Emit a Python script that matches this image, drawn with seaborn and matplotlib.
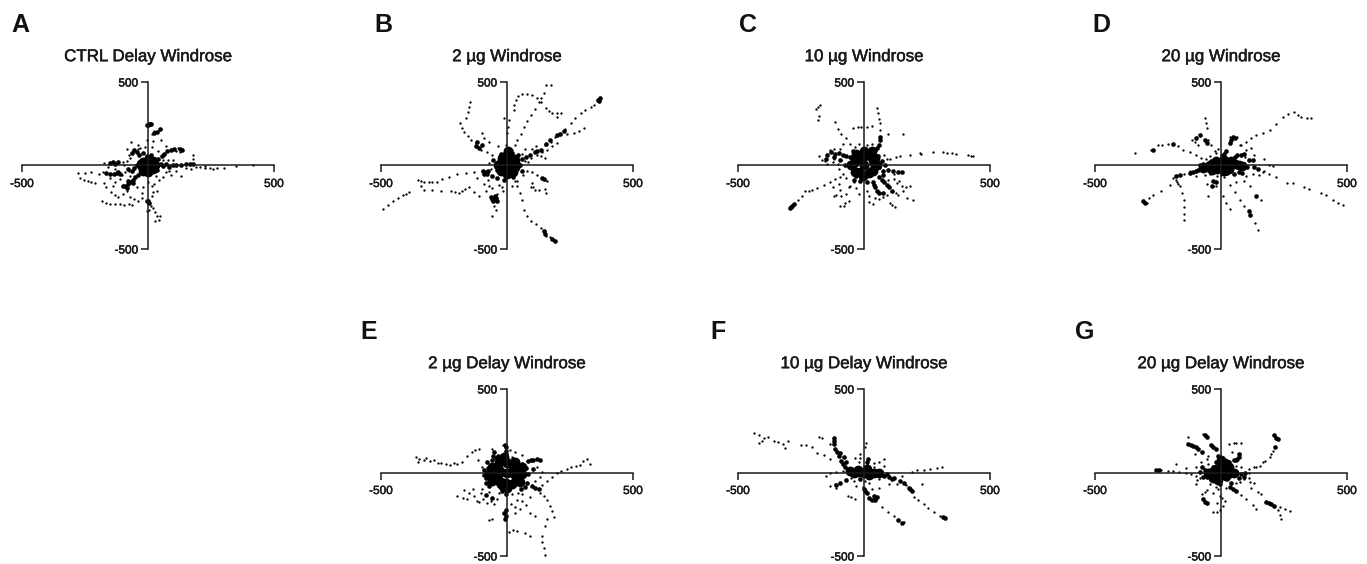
import matplotlib
matplotlib.use("Agg")
import matplotlib.pyplot as plt
import matplotlib.patheffects as pe
import pandas as pd
import seaborn as sns

sns.set_style("ticks")
plt.rcParams['font.family'] = ['Liberation Sans', 'DejaVu Sans']

TITLES = ["CTRL Delay Windrose", "2 µg Windrose", "10 µg Windrose", "20 µg Windrose",
          "2 µg Delay Windrose", "10 µg Delay Windrose", "20 µg Delay Windrose"]
LETTERS = ["A", "B", "C", "D", "E", "F", "G"]
TICKS = [-500, 500]
TICK_LABELS = ["-500", "500"]

# solid middle of each rose
a_hub = [(0, 0), (-20, 20), (20, -20), (20, 25), (-20, -30), (0, 35), (0, -40), (28, 0), (-28, 0)]
b_hub = [(0, 0), (-15, 20), (15, -20), (18, 22), (-18, -25), (5, 40), (0, -50), (0, 60), (-20, 45), (20, 45), (-25, -35),
         (25, -40), (35, 0), (-35, 0), (30, 35), (5, 85)]
c_hub = [(0, 0), (-35, 30), (35, -30), (35, 35), (-35, -40), (0, 55), (-5, -60), (-50, 0), (50, 0), (-40, 15), (40, 15),
         (-20, 50), (20, 60), (0, 85), (-15, -40), (20, -45), (-30, 70), (45, 45), (30, 85)]
d_hub = [(0, 0), (-30, 5), (30, 5), (-55, -10), (55, 10), (15, 20), (-15, -20), (-70, -15), (-45, 0), (70, 5), (85, -5),
         (40, 25), (30, -20), (-20, 25), (-35, -25), (10, -30), (10, 35)]
e_hub = [(0, 0), (-35, 30), (35, -30), (35, 35), (-35, -40), (0, 55), (-5, -60), (-50, 0), (50, 0), (-60, -20), (60, -10),
         (-30, 60), (30, 65), (-10, 90), (-60, 30), (60, 35), (-60, -50), (50, -55), (0, -90), (20, -70), (-25, -70),
         (25, 30), (-25, 5), (25, -5), (-70, -10)]
f_hub = [(0, 0), (-25, 3), (25, -3), (-40, 0), (-55, 10), (40, -5), (60, -5), (-25, 15), (10, 20), (20, -15)]
g_hub = [(0, 0), (-20, 20), (20, -20), (20, 22), (-20, -25), (-35, 5), (35, 0), (0, 40), (-10, -45), (15, 55), (-50, -5),
         (50, -5), (30, 30), (-30, -30), (0, 75)]

# dense clumps and thick arms (um)
a_core = [(-20, 10), (20, -10), (-30, -15), (30, 15), (40, 0), (-45, 0), (35, -25), (-35, 20), (50, 10), (-55, -12),
          (25, 40), (60, -5), (72, 10), (85, -8), (98, 5), (112, 0), (130, 4), (150, 8), (165, 8), (178, 6), (40, 40),
          (55, 55), (65, 70), (76, 85), (90, 95), (105, 100), (125, 100), (135, 95), (4, 249), (-2, 245), (8, 250),
          (0, 240), (12, 246), (-150, 14), (-140, 20), (-130, 10), (-118, 18), (-165, -45), (-150, -50), (-135, -50),
          (-120, -40), (-100, -125), (-90, -120), (-80, -110), (-70, -100), (-60, -85), (-50, -70), (-40, -55),
          (-85, -135), (-78, -95), (-58, -105), (0, -215), (5, -225), (-5, -210), (-20, 75), (-35, 60), (-45, 80),
          (-65, 74), (-55, 90), (34, 203), (47, 217), (25, 195), (-110, -50), (-124, -46), (0, 40), (-5, 55), (10, 62),
          (-80, -20), (-65, -30)]
a_dots = [(25, 205), (35, 200), (45, 212), (52, 218), (15, 190), (-5, 150), (20, 145), (-68, 140), (-40, 125),
          (50, 150), (100, 100), (120, 102), (135, 98), (110, 85), (125, 80), (180, 60), (178, 40), (-30, 105),
          (-60, 90), (-75, 60), (-120, 15), (-100, 20), (-85, 25), (-105, -55), (-90, -40), (-75, -30), (-60, -25),
          (190, -8), (205, -10), (225, -12), (245, -14), (258, -18), (275, -15), (300, -12), (350, -5), (417, 0),
          (130, -60), (70, -40), (85, -35), (45, -85), (-276, -46), (-250, -45), (-225, -40), (-195, -52), (-180, -40),
          (-270, -75), (-255, -85), (-240, -90), (-225, -100), (-210, -105), (-175, -105), (-165, -130), (-145, -160),
          (-130, -175), (-120, -190), (-183, -215), (-165, -222), (-150, -228), (-130, -232), (-110, -232), (-95, -235),
          (-75, -230), (-65, -238), (-70, -190), (-55, -200), (-40, -210), (-25, -195), (-130, -100), (-150, -75),
          (20, -160), (35, -150), (15, -185), (-3, -270), (5, -265), (20, -255), (28, -280), (35, -305), (47, -305),
          (42, -325), (28, -335), (10, -240), (-70, 45), (-85, 100), (-40, 100), (-10, 110), (15, 110), (40, 85),
          (70, 115), (60, 35), (80, 30), (100, 35), (110, -30), (90, -55), (60, -70), (30, -60), (25, -110), (0, -100),
          (-20, -130), (-45, -130), (-70, -65), (-110, -80), (-130, -20), (-160, -10), (-95, 0), (-175, 12), (-140, -120),
          (-100, -170), (-85, -155), (225, -5), (150, -15), (170, -18), (-25, -165), (15, -120)]

b_core = [(-15, 12), (15, -12), (-25, -10), (25, 12), (35, 0), (-38, 5), (28, 28), (-30, 25), (38, -22), (-40, -25),
          (50, 5), (10, 60), (-25, 50), (18, -55), (-85, -40), (-92, -48), (-80, -52), (-75, -35), (-95, -30), (-51, -205),
          (-60, -200), (-45, -195), (-55, -215), (-65, -190), (-40, -215), (-48, -180), (60, 40), (75, 50), (90, 62),
          (110, 78), (120, 85), (135, 95), (210, 190), (200, 180), (225, 205), (140, -72), (148, -80), (371, 402),
          (360, 395), (365, 385), (5, 75), (10, 90), (-10, 70), (45, 60), (60, -30), (-55, 35), (25, -70), (-10, -85),
          (-40, -75), (-60, -60), (-25, 70), (20, 75), (190, -454), (180, -440), (150, -410), (145, -395), (153, 130),
          (170, 150), (-100, 120), (-110, 105), (-125, 115), (-120, 140)]
b_dots = [(-494, -259), (-474, -235), (-454, -211), (-434, -195), (-414, -175), (-400, -168), (-388, -161),
          (-355, -86), (-340, -95), (-329, -96), (-310, -100), (-296, -101), (-276, -99), (-256, -82), (-230, -66),
          (-197, -50), (-164, -42), (-131, -40), (-98, -30), (-342, -125), (-329, -145), (-296, -145), (-263, -151),
          (-223, -155), (-205, -160), (-190, -165), (-180, -150), (-165, -140), (-150, -131), (-130, -160), (-111, -185),
          (-45, -265), (-50, -245), (-58, -300), (-40, -170), (-20, -130), (30, -95), (41, -125), (50, -165), (61, -205),
          (67, -265), (80, -305), (94, -334), (115, -350), (133, -374), (150, -395), (153, -424), (170, -430),
          (100, -40), (120, -55), (160, -95), (150, -85), (156, -165), (150, -140), (100, -105), (105, -130),
          (113, -145), (95, -130), (125, -148), (332, 352), (345, 365), (310, 330), (293, 312), (270, 285), (253, 253),
          (230, 220), (212, 193), (190, 170), (173, 143), (150, 120), (305, 223), (285, 205), (264, 193),
          (240, 190), (199, 133), (180, 115), (160, 95), (140, 80), (173, 482), (153, 482), (147, 432), (135, 405),
          (127, 382), (110, 340), (94, 302), (80, 265), (67, 233), (55, 190), (41, 153), (30, 120), (21, 94), (28, 332),
          (28, 360), (34, 392), (45, 415), (61, 428), (80, 428), (100, 422), (118, 405), (133, 382), (153, 342),
          (165, 325), (180, 312), (200, 315), (213, 312), (200, 292), (8, 273), (5, 230), (1, 193), (-12, 283),
          (-147, 382), (-150, 350), (-155, 322), (-164, 283), (-186, 253), (-178, 225), (-170, 203), (-155, 175),
          (-144, 153), (-98, 193), (-90, 165), (-70, 140), (-124, 133), (-115, 110), (-104, 94), (-80, 80), (-58, 64),
          (-120, -75), (-75, -85), (-90, -110), (-70, -120), (-65, -20), (-70, 15), (60, 70), (70, 25), (85, 20), (65, -55),
          (80, -30), (40, -95), (-30, -115), (-15, -150), (-35, 115), (-5, 125), (-60, -135), (-85, -150), (20, -120),
          (120, 60), (150, 45), (95, 45), (100, 100), (115, 115), (135, 55), (70, 100)]

c_core = [(-25, 20), (25, -20), (-45, -10), (45, 15), (15, 45), (-15, -45), (-60, 15), (60, -10), (5, 70), (-5, -70),
          (30, 60), (-30, -65), (70, 25), (-75, 5), (55, 55), (-55, 50), (75, -30), (45, 90), (52, 105), (60, 125), (63, 150),
          (63, 170), (-145, 60), (-130, 80), (-115, 70), (-100, 75), (-85, 60), (-70, 55), (-150, 40), (-120, 50), (95, -25),
          (115, -35), (135, -40), (149, -36), (60, -70), (70, -85), (80, -100), (90, -115), (100, -130), (112, -150), (35, -100),
          (40, -115), (45, -130), (52, -150), (60, -165), (75, -165), (-293, -255), (-285, -240), (-278, -230), (-288, -248),
          (25, 85), (-25, 75), (-45, 85), (85, 5), (-15, -95), (10, -100), (-95, 35), (75, -55), (-40, -85)]
c_dots = [(-181, 352), (-190, 340), (-175, 360), (-184, 273), (-180, 295), (-115, 263), (-105, 220), (-90, 190),
          (-70, 165), (-55, 130), (-42, 227), (-25, 228), (-10, 232), (11, 233), (33, 235), (50, 342), (55, 315), (60, 280),
          (63, 253), (65, 215), (153, 187), (95, 190), (103, 38), (125, 50), (143, 58), (182, 64), (222, 74), (228, 70),
          (275, 78), (314, 78), (330, 76), (350, 72), (367, 70), (413, 60), (425, 58), (433, 54), (-260, -205), (-245, -180),
          (-233, -155), (-220, -150), (-205, -145), (-187, -135), (-160, -115), (-135, -96), (-115, -80), (-95, -66),
          (-121, -185), (-110, -175), (-90, -180), (-70, -170), (-75, -225), (-60, -210), (-95, -245), (-80, -240),
          (-100, -110), (-125, -130), (-60, -130), (-40, -100), (195, -205), (170, -195), (182, -125), (165, -130),
          (149, -125), (110, -155), (125, -165), (135, -175), (90, -175), (75, -190), (60, -200), (105, -225), (123, -249),
          (112, -235), (20, -220), (35, -230), (-180, 55), (-165, 30), (-155, 25), (-120, 40), (-90, 35), (120, -80),
          (140, -95), (-20, 130), (-35, 110), (-85, 130), (-95, 100), (10, 120), (30, 130), (-120, 100), (-135, 95),
          (80, 60), (90, 40), (-100, -20), (-85, -50), (-70, -75), (-55, -120), (-30, -135), (-20, -170), (10, -150), (20, -180),
          (45, -195), (95, -85), (120, -50), (-95, -145), (-145, 10), (-125, 20), (-105, 10), (130, -105), (155, -150)]

d_core = [(-20, 8), (20, -8), (-40, -12), (40, 12), (10, 28), (-10, -25), (-55, -5), (60, 5), (28, 30), (-30, -35),
          (30, -28), (-30, 22), (-70, -18), (75, -5), (5, 55), (20, 85), (10, 70), (45, 40), (55, 50), (65, 60), (80, 65),
          (90, 70), (90, 10), (110, 30), (125, 35), (105, -10), (130, -10), (-90, -25), (-100, -35), (-110, -40), (-125, -45),
          (48, 173), (55, 165), (40, 150), (35, 135), (85, -45), (70, -40), (50, -50), (25, -45), (-85, 5), (-70, 10), (-40, 25),
          (-30, -90), (-20, -100), (-35, -120), (-164, -56), (-180, -65), (145, -20), (140, -185), (115, -295), (112, -275),
          (-309, -215), (-300, -225), (-55, 135), (-65, 150), (-85, 180), (-100, 165), (-270, 94), (-190, 129)]
d_dots = [(358, 283), (340, 285), (318, 293), (305, 305), (288, 322), (265, 310), (246, 293), (220, 250), (193, 213),
          (165, 195), (140, 183), (120, 165), (100, 143), (80, 120), (483, -235), (465, -222), (445, -205), (417, -175),
          (395, -165), (351, -139), (330, -130), (285, -105), (260, -102), (219, -66), (190, -50), (166, -36), (-342, 74),
          (-276, 94), (-249, 123), (-235, 125), (-210, 128), (-170, 115), (-150, 94), (-125, 80),
          (-98, 64), (-65, 283), (-60, 255), (-55, 223), (-117, 153), (-105, 140), (-90, 125), (-50, 150), (-40, 120),
          (-295, -225), (-285, -195), (-269, -175), (-240, -155), (-203, -115), (-180, -85),
          (-145, -50), (-125, -35), (-148, -324), (-148, -290), (-147, -250), (-147, -205), (-155, -165),
          (-164, -125), (-175, -100), (147, -384), (135, -345), (90, -245), (74, -205), (55, -160), (34, -115),
          (34, -261), (20, -225), (8, -185), (-32, -125), (-20, -125), (-50, -185), (160, -205), (114, -125),
          (90, -90), (120, 103), (100, 90), (170, 40), (190, 0), (205, -5), (170, -30), (-20, 75), (65, 170), (35, 170),
          (75, 120), (60, -100), (-55, -110), (-10, 100), (-25, 85), (0, -55), (10, -70), (-15, -60), (100, -60), (125, -50),
          (150, -55), (95, 50), (130, 60), (-60, 40), (-80, 45), (-45, 55), (-45, -50), (-65, -55), (-100, -65), (-190, -75),
          (-170, -110)]

e_core = [(-25, 15), (25, -15), (-45, -10), (45, 12), (15, 45), (-15, -45), (-65, -20), (65, 5), (5, 75), (-5, -75),
          (40, 55), (-40, -60), (85, -10), (-85, -35), (60, 50), (-60, 75), (-5, 130), (-5, 110), (-7, 165), (-3, 150),
          (85, 70), (95, 72), (105, 76), (120, 78), (132, 76), (-50, 120), (-35, 100), (-55, 100), (-45, 85), (-80, 60), (80, -60),
          (100, -80), (125, -100), (110, -92), (-7, -279), (-5, -260), (-12, -240), (-3, -225), (-70, -55), (-85, -65), (-90, -15),
          (70, -85), (55, -100), (25, -75), (-25, -90), (-10, 100), (25, 80), (105, 20), (75, 25), (-75, 25), (-90, 15), (-70, -80),
          (-60, -150), (-85, -135), (-5, -130), (-20, -110)]
e_dots = [(-363, 90), (-350, 80), (-330, 75), (-355, 60), (-304, 70), (-290, 72), (-275, 55), (-244, 50), (-225, 45),
          (-198, 50), (-180, 60), (-158, 100), (-140, 120), (-112, 143), (-128, 135), (330, 50), (317, 80), (300, 70),
          (275, 40), (238, 20), (215, 10), (198, 0), (178, -25), (158, -50), (140, -75), (152, -497), (145, -455), (139, -418),
          (140, -380), (152, -318), (158, -279), (185, -269), (180, -230), (172, -199), (158, -165), (145, -139), (130, -120),
          (92, -378), (70, -362), (40, -348), (25, -345), (7, -358), (112, -259), (90, -240), (53, -219), (30, -205), (15, -190),
          (-198, -143), (-175, -150), (-158, -159), (-150, -120), (-135, -100), (-112, -179), (-95, -160), (-80, -185),
          (-53, -189), (-65, -170), (-40, -160), (-59, -279), (-70, -285), (-100, -100), (-120, -170), (-30, -120), (20, -130),
          (45, -120), (60, -130), (-15, 165), (10, 135), (20, 90), (90, -145), (-170, -105), (-105, -120), (-130, -140), (-70, -115),
          (60, -170), (75, -195), (40, -165), (30, -240), (110, -50), (130, -25), (120, 30), (140, 5), (-100, 35), (-115, 75),
          (-60, 140), (30, 125), (60, 105), (255, 30), (290, 45), (-210, 55), (-260, 55), (-320, 85)]

f_core = [(-20, 5), (20, -5), (-45, 0), (40, -8), (-60, 20), (60, -12), (-75, 35), (80, -20), (-82, 50), (-90, 70), (-100, 100),
          (-108, 120), (-115, 140), (-120, 170), (-120, 190), (-120, 209), (-95, 115), (-80, 90), (-70, 60), (10, 40), (15, 80), (12, 60),
          (5, 20), (-30, 15), (100, -25), (120, -35), (144, -50), (60, 5), (90, -10), (184, -100), (178, -90), (190, -110), (51, -149), (40, -140),
          (30, -165), (45, -165), (20, -150), (10, -125), (5, -110), (0, -100), (322, -275), (315, -268), (-110, -75), (-95, -65), (-70, -45),
          (-35, -15), (150, -305), (135, -285), (25, 12), (-15, -40), (110, -40), (160, -65)]
f_dots = [(-437, 239), (-415, 225), (-397, 209), (-380, 215), (-358, 189), (-340, 185), (-300, 189), (-313, 149),
          (-320, 170), (-417, 179), (-405, 190), (-251, 163), (-230, 165), (-205, 150), (-186, 119), (-160, 105), (-133, 80),
          (-180, 215), (-165, 205), (-135, 170), (9, 179), (5, 150), (78, 80), (60, 62), (40, 55), (309, 30), (290, 25),
          (263, 20), (240, 15), (210, 16), (190, 5), (276, -239), (300, -260), (255, -215), (237, -189), (215, -165), (197, -149),
          (165, -75), (157, -295), (118, -259), (95, -235), (71, -209), (-133, -80), (-115, -70),
          (-50, -30), (-110, -90), (-34, -159), (-50, -145), (-65, -140), (-150, -20), (-135, -5), (20, -60),
          (5, -50), (-20, 60), (-35, 85), (150, -20), (230, -70), (100, -70), (-15, 85), (-15, 110), (30, -100), (60, -95),
          (-60, -10), (-40, -50), (-85, 10), (-110, 5), (130, -70), (60, -40), (40, 35), (80, 40), (-5, -85), (-30, -80)]

g_core = [(-40, -8), (38, 8), (-60, -5), (60, 5), (30, 35), (-30, 30), (25, -38), (-65, 15), (80, -10), (95, 0), (-5, 70),
          (-111, 159), (-100, 150), (-90, 140), (-75, 125), (-120, 165), (-130, 170), (219, 209), (212, 222), (225, 200), (-65, -175),
          (-70, -160), (-55, -180), (65, 80), (70, 110), (72, 95), (50, 75), (60, 75), (-30, 155), (-38, 165), (-20, 140), (180, -179), (190, -185),
          (200, -190), (210, -200), (48, -100), (35, -85), (60, -112), (215, 150), (5, 80), (-20, 60), (-55, -25), (-70, -25), (-85, 5), (70, -30),
          (90, -25), (40, -60), (-5, -70), (-20, -45), (30, 60), (-75, 35), (-10, 100), (20, 60), (-256, 14), (-245, 12), (-65, 225), (-55, 215)]
g_dots = [(-240, 12), (-210, 8), (-190, 10), (-165, 5), (-137, 0), (-120, -10), (-177, 50), (-140, 25), (-100, 30),
          (-131, 215), (-71, 229), (61, 179), (50, 175), (80, 175), (74, 109), (205, 130), (193, 90), (175, 70),
          (153, 40), (130, 30), (110, 20), (272, -229), (255, -220), (235, -205), (160, -130), (145, -115), (120, -90), (240, -279),
          (235, -255), (225, -225), (140, -219), (125, -195), (100, -159), (80, -135), (-32, -235), (-15, -238), (-5, -225),
          (8, -199), (15, -170), (-55, -105), (-65, -115), (-75, -130), (-45, -70), (-85, -30), (-100, -20), (-95, -45), (130, -60),
          (115, -55), (90, -40), (60, -60), (-10, -100), (-5, -140), (5, -150), (80, 30), (45, 125), (-50, 100), (-55, 80), (30, 170),
          (110, -30), (75, -55), (-35, -40), (-50, 50), (-80, 60), (-105, 110), (40, 40), (60, 40), (110, -5), (20, -90), (-20, -85),
          (-100, -70), (-30, -125), (-15, -185), (140, 35), (165, 60), (200, 110)]

PANEL_HUBS = [a_hub, b_hub, c_hub, d_hub, e_hub, f_hub, g_hub]
PANEL_CORES = [a_core, b_core, c_core, d_core, e_core, f_core, g_core]
PANEL_DOTS = [a_dots, b_dots, c_dots, d_dots, e_dots, f_dots, g_dots]

W, H = 1367, 564
# left, top of each axes in pixels
boxes = [(22, 82), (381, 82), (738, 82), (1095, 82), (381, 389), (738, 389), (1095, 389)]
letter_pos = [(11, 32), (374, 32), (739, 32), (1092, 32), (360, 339), (710, 339), (1075, 339)]
heavier = [pe.withStroke(linewidth=0.35, foreground='#1a1a1a')]

fig = plt.figure(figsize=(W / 100, H / 100), dpi=100)

for i in range(7):
    left, top = boxes[i]
    ax = fig.add_axes([left / W, 1 - (top + 167) / H, 252 / W, 167 / H])
    hub = pd.DataFrame(PANEL_HUBS[i], columns=['x', 'y'])
    core = pd.DataFrame(PANEL_CORES[i], columns=['x', 'y'])
    dots = pd.DataFrame(PANEL_DOTS[i], columns=['x', 'y'])
    sns.scatterplot(data=hub, x='x', y='y', color='black', s=50, linewidth=0, ax=ax, legend=False, clip_on=False)
    sns.scatterplot(data=core, x='x', y='y', color='black', s=11, linewidth=0, ax=ax, legend=False, clip_on=False)
    sns.scatterplot(data=dots, x='x', y='y', color='black', s=2.8, linewidth=0, ax=ax, legend=False, clip_on=False)

    ax.set_xlim(-500, 500)
    ax.set_ylim(-500, 500)
    ax.set_xlabel('')
    ax.set_ylabel('')
    ax.patch.set_alpha(0)
    for side in ['top', 'right']:
        ax.spines[side].set_visible(False)
    for side in ['left', 'bottom']:
        ax.spines[side].set_position(('data', 0))
        ax.spines[side].set_linewidth(1.1)
        ax.spines[side].set_color('#1a1a1a')
    ax.set_xticks(TICKS)
    ax.set_xticklabels(TICK_LABELS)
    ax.set_yticks(TICKS)
    ax.set_yticklabels(TICK_LABELS)
    ax.tick_params(axis='both', length=5, width=1.1, color='#1a1a1a', labelsize=8.5, labelcolor='#1a1a1a')
    ax.tick_params(axis='x', pad=4)
    ax.tick_params(axis='y', pad=2)
    for lab in ax.get_xticklabels() + ax.get_yticklabels():
        lab.set_path_effects(heavier)
    ax.set_title(TITLES[i], fontsize=12.2, color='#1a1a1a', pad=15, path_effects=heavier)

    fig.text(letter_pos[i][0] / W, 1 - letter_pos[i][1] / H, LETTERS[i], fontsize=18, fontweight='bold', color='#111111')

fig.savefig("out.png", dpi=100)
